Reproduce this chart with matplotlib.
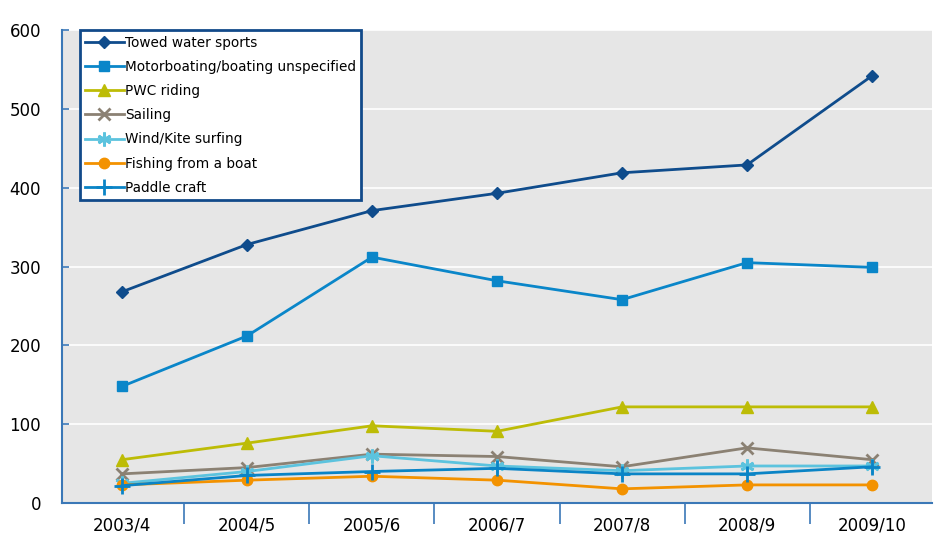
import matplotlib.pyplot as plt
import numpy as np

# Seasons on the x axis
seasons = ["2003/4", "2004/5", "2005/6", "2006/7", "2007/8", "2008/9", "2009/10"]

# Values, one list per activity
towed = [268, 328, 371, 393, 419, 429, 542]
motorboating = [148, 212, 312, 282, 258, 305, 299]
pwc = [55, 76, 98, 91, 122, 122, 122]
sailing = [37, 45, 62, 59, 46, 70, 55]
wind_kite = [25, 40, 60, 47, 41, 47, 47]
fishing = [23, 29, 34, 29, 18, 23, 23]
paddle = [22, 35, 40, 44, 37, 37, 46]

labels = ["Towed water sports", "Motorboating/boating unspecified", "PWC riding",
          "Sailing", "Wind/Kite surfing", "Fishing from a boat", "Paddle craft"]

# Styles: colour, marker, marker size
styles = [
    ("#0f4c8c", "D", 6.5),
    ("#0a86c9", "s", 7),
    ("#bdbc06", "^", 9),
    ("#8b8173", "x", 8),
    ("#5cc3de", (6, 2, 0), 10),
    ("#f39200", "o", 7.5),
    ("#0a84c6", "+", 11),
]

series = [towed, motorboating, pwc, sailing, wind_kite, fishing, paddle]
axis_blue = "#3b78b7"

fig = plt.figure(figsize=(9.35, 5.38), dpi=100)
ax = fig.add_axes([0.0663, 0.065, 0.9305, 0.879])
ax.set_facecolor("#e6e6e6")

x = np.arange(len(seasons))
for vals, lab, (col, mk, ms) in zip(series, labels, styles):
    ax.plot(x, vals, color=col, lw=2, marker=mk, markersize=ms,
            markeredgewidth=2 if mk in ("x", "+") or isinstance(mk, tuple) else 1,
            markeredgecolor=col, markerfacecolor=col, label=lab, zorder=3)

ax.set_xlim(-0.48, 6.48)
ax.set_ylim(0, 600)
ax.set_yticks(np.arange(0, 601, 100))
ax.set_xticks(x)
ax.set_xticklabels(seasons)
ax.set_xticks(np.arange(0.5, 6, 1), minor=True)

ax.grid(axis="y", color="white", lw=1.2)
ax.set_axisbelow(True)

for s in ("top", "right"):
    ax.spines[s].set_visible(False)
for s in ("left", "bottom"):
    ax.spines[s].set_color(axis_blue)
    ax.spines[s].set_linewidth(1.5)

ax.tick_params(axis="y", direction="in", length=5, color=axis_blue, width=1.2,
               labelsize=12, pad=15)
ax.tick_params(axis="x", which="major", length=0, labelsize=12, pad=10)
ax.tick_params(axis="x", which="minor", direction="out", length=15,
               color=axis_blue, width=1.2)

leg = ax.legend(loc="upper left", bbox_to_anchor=(0.0207, 1.0), borderaxespad=0,
                fontsize=9.8, frameon=True, fancybox=False, framealpha=1,
                handlelength=2.8, handletextpad=0.1, labelspacing=0.75,
                borderpad=0.4)
leg.get_frame().set_edgecolor("#124a8a")
leg.get_frame().set_linewidth(2)

fig.savefig("out.png", dpi=100)
